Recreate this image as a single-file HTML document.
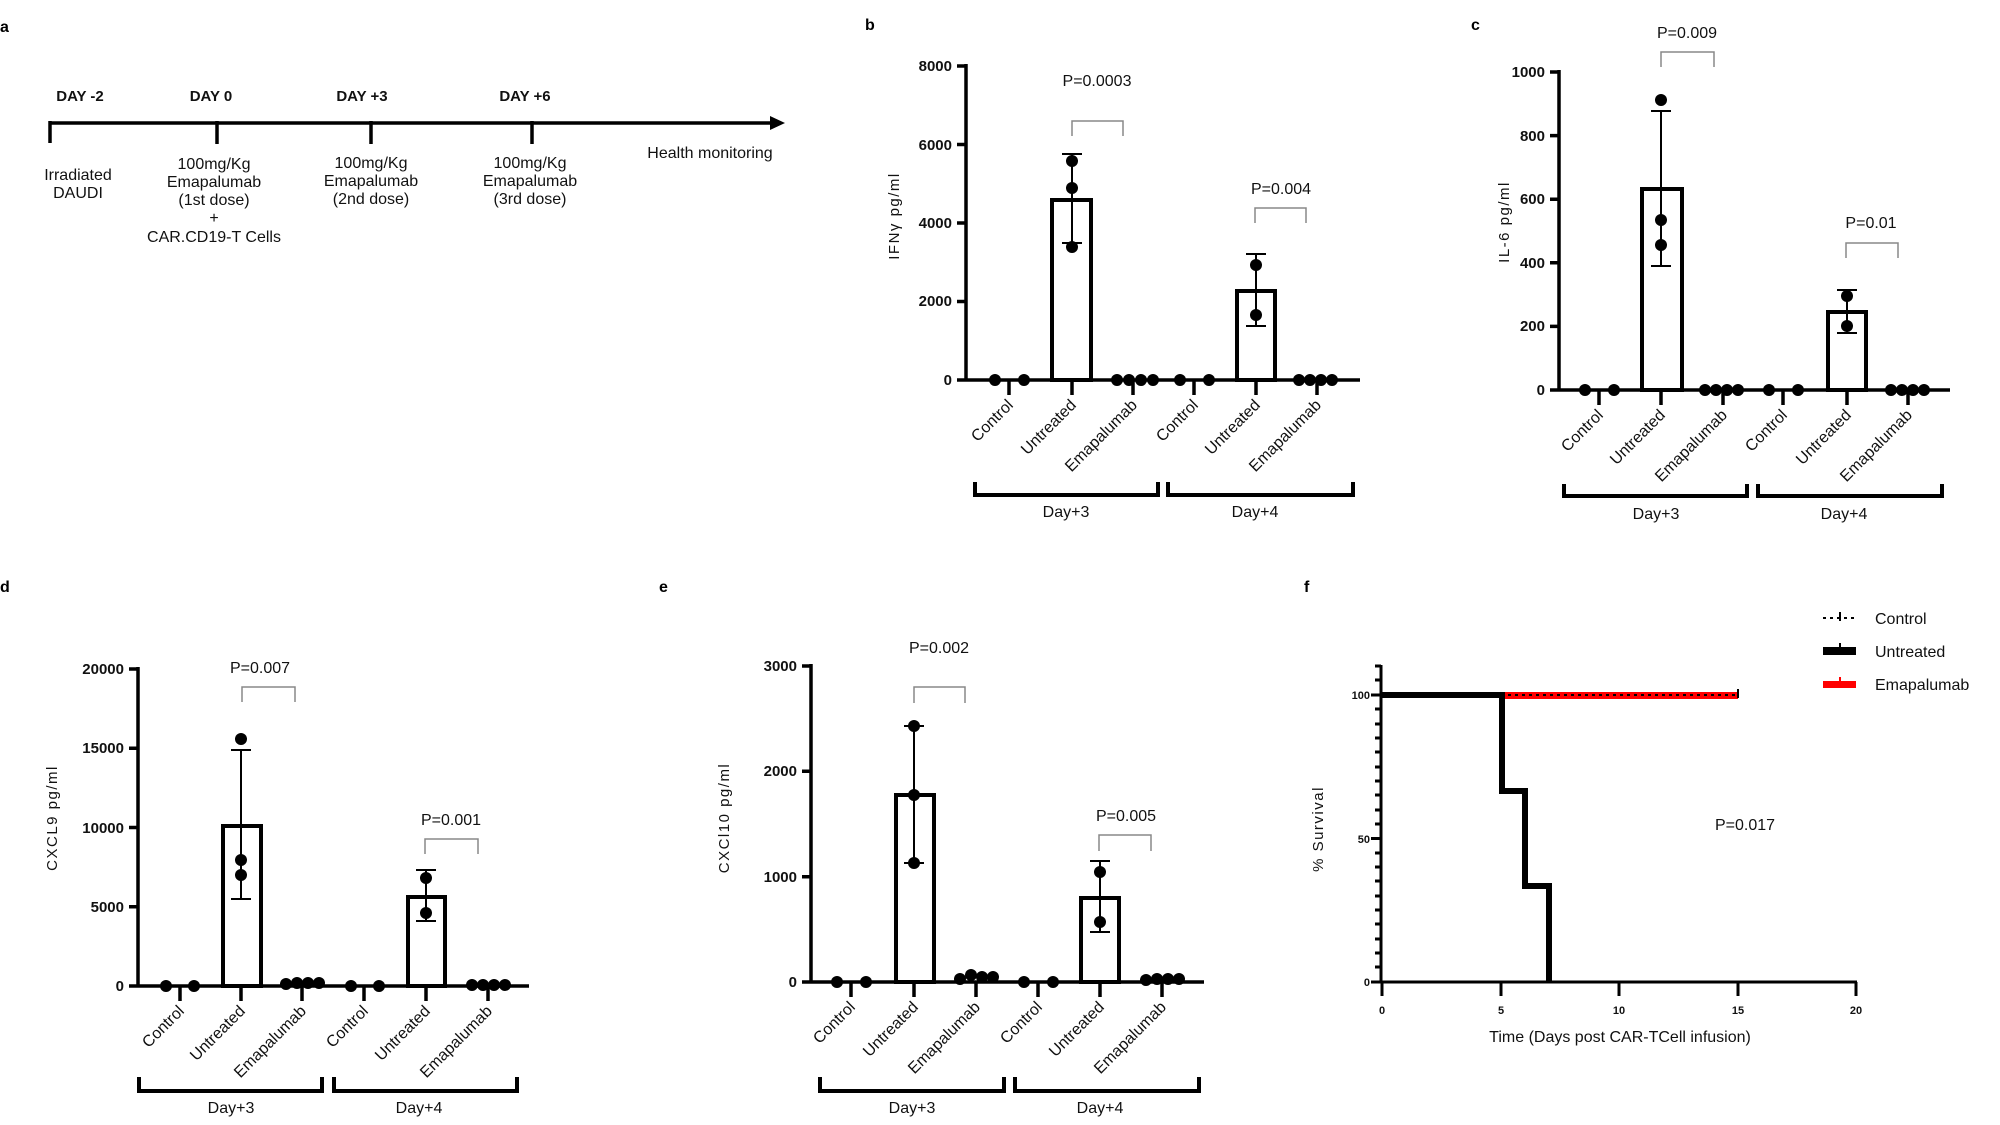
<!DOCTYPE html>
<html><head><meta charset="utf-8"><style>
html,body{margin:0;padding:0;background:#fff;}
svg{display:block;font-family:"Liberation Sans",Arial,sans-serif;}
.t{font-size:15px;fill:#111;}
.c{font-size:16px;fill:#111;}
.yl{font-size:15px;fill:#111;letter-spacing:1.5px;}
.tb{font-size:15px;font-weight:bold;fill:#111;}
.pl{font-size:16px;font-weight:bold;fill:#000;}
.ax{stroke:#000;stroke-width:3.5;fill:none;}
.bar{stroke:#000;stroke-width:4;fill:#fff;}
.er{stroke:#000;stroke-width:2;fill:none;}
.br{stroke:#888;stroke-width:1.5;fill:none;}
.bk{stroke:#000;stroke-width:4;fill:none;}
</style></head><body>
<svg width="2000" height="1125" viewBox="0 0 2000 1125" xmlns="http://www.w3.org/2000/svg">
<!-- Panel a -->
<text class="pl" x="0" y="32">a</text>
<g class="tb" text-anchor="middle">
<text x="80" y="101">DAY -2</text><text x="211" y="101">DAY 0</text><text x="362" y="101">DAY +3</text><text x="525" y="101">DAY +6</text>
</g>
<line x1="50" y1="123" x2="772" y2="123" stroke="#000" stroke-width="3.5"/>
<polygon points="770,116 785,123 770,130" fill="#000"/>
<g stroke="#000" stroke-width="3.5"><line x1="50" y1="121" x2="50" y2="143"/><line x1="217" y1="121" x2="217" y2="144"/><line x1="371" y1="121" x2="371" y2="144"/><line x1="532" y1="121" x2="532" y2="144"/></g>
<g class="c" text-anchor="middle">
<text x="78" y="180">Irradiated</text><text x="78" y="198">DAUDI</text>
<text x="214" y="169">100mg/Kg</text><text x="214" y="187">Emapalumab</text><text x="214" y="205">(1st  dose)</text><text x="214" y="223">+</text><text x="214" y="242">CAR.CD19-T Cells</text>
<text x="371" y="168">100mg/Kg</text><text x="371" y="186">Emapalumab</text><text x="371" y="204">(2nd dose)</text>
<text x="530" y="168">100mg/Kg</text><text x="530" y="186">Emapalumab</text><text x="530" y="204">(3rd dose)</text>
<text x="710" y="158">Health monitoring</text>
</g>

<!-- Panel b -->
<text class="pl" x="865" y="30">b</text>
<text class="yl" transform="translate(899,216) rotate(-90)" text-anchor="middle">IFNγ  pg/ml</text>
<g class="tb" text-anchor="end">
<text x="952" y="385">0</text><text x="952" y="306">2000</text><text x="952" y="228">4000</text><text x="952" y="150">6000</text><text x="952" y="71">8000</text>
</g>
<path class="ax" d="M966 64 V380 H1360 M957 66 H966 M957 144.5 H966 M957 223 H966 M957 301.5 H966 M957 380 H966 M1009 380 V395 M1072 380 V395 M1133 380 V395 M1194 380 V395 M1256 380 V395 M1317 380 V395"/>
<rect class="bar" x="1052" y="200" width="39" height="180"/>
<rect class="bar" x="1237" y="291" width="38" height="89"/>
<path class="er" d="M1072 154 V243 M1062 154 H1082 M1062 243 H1082 M1256 254 V326 M1246 254 H1266 M1246 326 H1266"/>
<g fill="#000">
<circle cx="995" cy="380" r="6"/><circle cx="1024" cy="380" r="6"/>
<circle cx="1117" cy="380" r="6"/><circle cx="1129" cy="380" r="6"/><circle cx="1141" cy="380" r="6"/><circle cx="1153" cy="380" r="6"/>
<circle cx="1180" cy="380" r="6"/><circle cx="1209" cy="380" r="6"/>
<circle cx="1299" cy="380" r="6"/><circle cx="1310" cy="380" r="6"/><circle cx="1321" cy="380" r="6"/><circle cx="1332" cy="380" r="6"/>
<circle cx="1072" cy="161" r="6"/><circle cx="1072" cy="188" r="6"/><circle cx="1072" cy="247" r="6"/>
<circle cx="1256" cy="265" r="6"/><circle cx="1256" cy="315" r="6"/>
</g>
<text class="c" x="1097" y="86" text-anchor="middle">P=0.0003</text>
<path class="br" d="M1072 136 V121 H1123 V136"/>
<text class="c" x="1281" y="194" text-anchor="middle">P=0.004</text>
<path class="br" d="M1255 223 V208 H1306 V223"/>
<g class="c" text-anchor="end">
<text transform="translate(1014,406) rotate(-45)">Control</text>
<text transform="translate(1077,406) rotate(-45)">Untreated</text>
<text transform="translate(1138,406) rotate(-45)">Emapalumab</text>
<text transform="translate(1199,406) rotate(-45)">Control</text>
<text transform="translate(1261,406) rotate(-45)">Untreated</text>
<text transform="translate(1322,406) rotate(-45)">Emapalumab</text>
</g>
<path class="bk" d="M975 482 V495 H1158 V482 M1168 482 V495 H1353 V482"/>
<g class="c" text-anchor="middle"><text x="1066" y="517">Day+3</text><text x="1255" y="517">Day+4</text></g>

<!-- Panel c -->
<text class="pl" x="1471" y="30">c</text>
<text class="yl" transform="translate(1509,222) rotate(-90)" text-anchor="middle">IL-6 pg/ml</text>
<g class="tb" text-anchor="end">
<text x="1545" y="395">0</text><text x="1545" y="331">200</text><text x="1545" y="268">400</text><text x="1545" y="204">600</text><text x="1545" y="141">800</text><text x="1545" y="77">1000</text>
</g>
<path class="ax" d="M1559 70 V390 H1950 M1550 72 H1559 M1550 135.6 H1559 M1550 199.2 H1559 M1550 262.8 H1559 M1550 326.4 H1559 M1550 390 H1559 M1599 390 V405 M1661 390 V405 M1723 390 V405 M1783 390 V405 M1847 390 V405 M1908 390 V405"/>
<rect class="bar" x="1642" y="189" width="40" height="201"/>
<rect class="bar" x="1828" y="312" width="38" height="78"/>
<path class="er" d="M1661 111 V266 M1651 111 H1671 M1651 266 H1671 M1847 290 V333 M1837 290 H1857 M1837 333 H1857"/>
<g fill="#000">
<circle cx="1585" cy="390" r="6"/><circle cx="1614" cy="390" r="6"/>
<circle cx="1705" cy="390" r="6"/><circle cx="1716" cy="390" r="6"/><circle cx="1727" cy="390" r="6"/><circle cx="1738" cy="390" r="6"/>
<circle cx="1769" cy="390" r="6"/><circle cx="1798" cy="390" r="6"/>
<circle cx="1891" cy="390" r="6"/><circle cx="1902" cy="390" r="6"/><circle cx="1913" cy="390" r="6"/><circle cx="1924" cy="390" r="6"/>
<circle cx="1661" cy="100" r="6"/><circle cx="1661" cy="220" r="6"/><circle cx="1661" cy="245" r="6"/>
<circle cx="1847" cy="296" r="6"/><circle cx="1847" cy="326" r="6"/>
</g>
<text class="c" x="1687" y="38" text-anchor="middle">P=0.009</text>
<path class="br" d="M1661 67 V52 H1714 V67"/>
<text class="c" x="1871" y="228" text-anchor="middle">P=0.01</text>
<path class="br" d="M1846 258 V243 H1898 V258"/>
<g class="c" text-anchor="end">
<text transform="translate(1604,416) rotate(-45)">Control</text>
<text transform="translate(1666,416) rotate(-45)">Untreated</text>
<text transform="translate(1728,416) rotate(-45)">Emapalumab</text>
<text transform="translate(1788,416) rotate(-45)">Control</text>
<text transform="translate(1852,416) rotate(-45)">Untreated</text>
<text transform="translate(1913,416) rotate(-45)">Emapalumab</text>
</g>
<path class="bk" d="M1564 484 V496 H1747 V484 M1758 484 V496 H1942 V484"/>
<g class="c" text-anchor="middle"><text x="1656" y="519">Day+3</text><text x="1844" y="519">Day+4</text></g>

<!-- Panel d -->
<text class="pl" x="0" y="592">d</text>
<text class="yl" transform="translate(57,818) rotate(-90)" text-anchor="middle">CXCL9 pg/ml</text>
<g class="tb" text-anchor="end">
<text x="124" y="991">0</text><text x="124" y="912">5000</text><text x="124" y="833">10000</text><text x="124" y="753">15000</text><text x="124" y="674">20000</text>
</g>
<path class="ax" d="M138 667 V986 H529 M129 669 H138 M129 748.25 H138 M129 827.5 H138 M129 906.75 H138 M129 986 H138 M180 986 V1001 M241 986 V1001 M302 986 V1001 M364 986 V1001 M426 986 V1001 M488 986 V1001"/>
<rect class="bar" x="223" y="826" width="38" height="160"/>
<rect class="bar" x="408" y="897" width="37" height="89"/>
<path class="er" d="M241 750 V899 M231 750 H251 M231 899 H251 M426 870 V921 M416 870 H436 M416 921 H436"/>
<g fill="#000">
<circle cx="166" cy="986" r="6"/><circle cx="194" cy="986" r="6"/>
<circle cx="286" cy="984" r="6"/><circle cx="297" cy="983" r="6"/><circle cx="308" cy="983" r="6"/><circle cx="319" cy="983" r="6"/>
<circle cx="351" cy="986" r="6"/><circle cx="379" cy="986" r="6"/>
<circle cx="472" cy="985" r="6"/><circle cx="483" cy="985" r="6"/><circle cx="494" cy="985" r="6"/><circle cx="505" cy="985" r="6"/>
<circle cx="241" cy="739" r="6"/><circle cx="241" cy="860" r="6"/><circle cx="241" cy="875" r="6"/>
<circle cx="426" cy="878" r="6"/><circle cx="426" cy="913" r="6"/>
</g>
<text class="c" x="260" y="673" text-anchor="middle">P=0.007</text>
<path class="br" d="M242 702 V687 H295 V702"/>
<text class="c" x="451" y="825" text-anchor="middle">P=0.001</text>
<path class="br" d="M425 854 V839 H478 V854"/>
<g class="c" text-anchor="end">
<text transform="translate(185,1012) rotate(-45)">Control</text>
<text transform="translate(246,1012) rotate(-45)">Untreated</text>
<text transform="translate(307,1012) rotate(-45)">Emapalumab</text>
<text transform="translate(369,1012) rotate(-45)">Control</text>
<text transform="translate(431,1012) rotate(-45)">Untreated</text>
<text transform="translate(493,1012) rotate(-45)">Emapalumab</text>
</g>
<path class="bk" d="M139 1077 V1091 H322 V1077 M334 1077 V1091 H517 V1077"/>
<g class="c" text-anchor="middle"><text x="231" y="1113">Day+3</text><text x="419" y="1113">Day+4</text></g>

<!-- Panel e -->
<text class="pl" x="659" y="592">e</text>
<text class="yl" transform="translate(729,818) rotate(-90)" text-anchor="middle">CXCl10 pg/ml</text>
<g class="tb" text-anchor="end">
<text x="797" y="987">0</text><text x="797" y="882">1000</text><text x="797" y="776">2000</text><text x="797" y="671">3000</text>
</g>
<path class="ax" d="M811 664 V982 H1204 M802 666 H811 M802 771.3 H811 M802 876.7 H811 M802 982 H811 M851 982 V997 M914 982 V997 M976 982 V997 M1038 982 V997 M1100 982 V997 M1162 982 V997"/>
<rect class="bar" x="896" y="795" width="38" height="187"/>
<rect class="bar" x="1081" y="898" width="38" height="84"/>
<path class="er" d="M914 726 V863 M904 726 H924 M904 863 H924 M1100 861 V932 M1090 861 H1110 M1090 932 H1110"/>
<g fill="#000">
<circle cx="837" cy="982" r="6"/><circle cx="866" cy="982" r="6"/>
<circle cx="960" cy="979" r="6"/><circle cx="971" cy="975" r="6"/><circle cx="982" cy="977" r="6"/><circle cx="993" cy="977" r="6"/>
<circle cx="1024" cy="982" r="6"/><circle cx="1053" cy="982" r="6"/>
<circle cx="1146" cy="980" r="6"/><circle cx="1157" cy="979" r="6"/><circle cx="1168" cy="979" r="6"/><circle cx="1179" cy="979" r="6"/>
<circle cx="914" cy="726" r="6"/><circle cx="914" cy="795" r="6"/><circle cx="914" cy="863" r="6"/>
<circle cx="1100" cy="872" r="6"/><circle cx="1100" cy="922" r="6"/>
</g>
<text class="c" x="939" y="653" text-anchor="middle">P=0.002</text>
<path class="br" d="M914 703 V687 H965 V703"/>
<text class="c" x="1126" y="821" text-anchor="middle">P=0.005</text>
<path class="br" d="M1099 851 V835 H1151 V851"/>
<g class="c" text-anchor="end">
<text transform="translate(856,1008) rotate(-45)">Control</text>
<text transform="translate(919,1008) rotate(-45)">Untreated</text>
<text transform="translate(981,1008) rotate(-45)">Emapalumab</text>
<text transform="translate(1043,1008) rotate(-45)">Control</text>
<text transform="translate(1105,1008) rotate(-45)">Untreated</text>
<text transform="translate(1167,1008) rotate(-45)">Emapalumab</text>
</g>
<path class="bk" d="M820 1077 V1091 H1004 V1077 M1015 1077 V1091 H1199 V1077"/>
<g class="c" text-anchor="middle"><text x="912" y="1113">Day+3</text><text x="1100" y="1113">Day+4</text></g>

<!-- Panel f -->
<text class="pl" x="1304" y="592">f</text>
<text class="yl" transform="translate(1323,829) rotate(-90)" text-anchor="middle">% Survival</text>
<g font-size="11" font-weight="bold" fill="#111" text-anchor="end">
<text x="1370" y="699">100</text><text x="1370" y="843">50</text><text x="1370" y="986">0</text>
</g>
<g font-size="11" font-weight="bold" fill="#111" text-anchor="middle">
<text x="1382" y="1014">0</text><text x="1501" y="1014">5</text><text x="1619" y="1014">10</text><text x="1738" y="1014">15</text><text x="1856" y="1014">20</text>
</g>
<path stroke="#000" stroke-width="3" fill="none" d="M1381 665 V982 H1857 M1382 982 V996 M1501 982 V996 M1619 982 V996 M1738 982 V996 M1856 982 V996"/>
<path stroke="#000" stroke-width="3" fill="none" d="M1371 695 H1381 M1371 838.5 H1381 M1371 982 H1381 M1375 666 H1381 M1375 680 H1381 M1375 709 H1381 M1375 724 H1381 M1375 738 H1381 M1375 752 H1381 M1375 767 H1381 M1375 781 H1381 M1375 795 H1381 M1375 810 H1381 M1375 824 H1381 M1375 853 H1381 M1375 867 H1381 M1375 881 H1381 M1375 896 H1381 M1375 910 H1381 M1375 924 H1381 M1375 939 H1381 M1375 953 H1381 M1375 967 H1381"/>
<rect x="1501" y="692" width="237" height="7" fill="#ff0000"/>
<line x1="1501" y1="695" x2="1738" y2="695" stroke="#000" stroke-width="2" stroke-dasharray="3,4"/>
<line x1="1738" y1="689" x2="1738" y2="698" stroke="#000" stroke-width="2"/>
<path stroke="#000" stroke-width="6" fill="none" d="M1381 695 H1502 V791 H1525 V886 H1549 V982"/>
<text class="c" x="1745" y="830" text-anchor="middle">P=0.017</text>
<text class="c" x="1620" y="1042" text-anchor="middle">Time (Days post CAR-TCell infusion)</text>
<line x1="1823" y1="618" x2="1856" y2="618" stroke="#000" stroke-width="2" stroke-dasharray="3,4"/>
<line x1="1840" y1="612" x2="1840" y2="621" stroke="#000" stroke-width="2"/>
<rect x="1823" y="647" width="33" height="8" fill="#000"/><line x1="1840" y1="643" x2="1840" y2="648" stroke="#000" stroke-width="2"/>
<rect x="1823" y="681" width="33" height="7" fill="#ff0000"/><line x1="1840" y1="677" x2="1840" y2="682" stroke="#ff0000" stroke-width="2"/>
<g class="c"><text x="1875" y="624">Control</text><text x="1875" y="657">Untreated</text><text x="1875" y="690">Emapalumab</text></g>
</svg>
</body></html>
